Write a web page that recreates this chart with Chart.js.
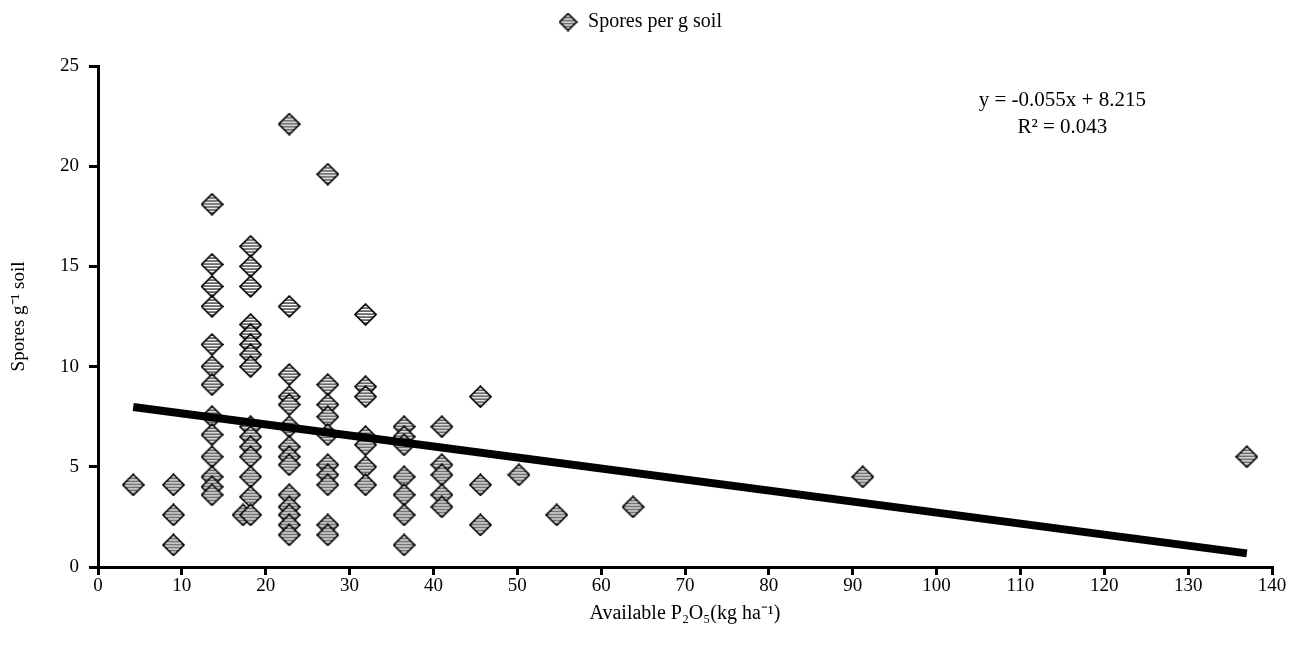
<!DOCTYPE html>
<html>
<head>
<meta charset="utf-8">
<script src="https://cdn.jsdelivr.net/npm/chart.js@4"></script>
<style>
html,body{margin:0;padding:0;background:#fff;}
#wrap{width:1298px;height:646px;}
</style>
</head>
<body>
<div id="wrap"><canvas id="c" width="1298" height="646"></canvas></div>
<script>
// ---- Data ----
const seriesLabel = "Spores per g soil";
const p2o5 = [
  4.2,
  9.0, 9.0, 9.0,
  13.6, 13.6, 13.6, 13.6, 13.6, 13.6, 13.6, 13.6, 13.6, 13.6, 13.6, 13.6, 13.6,
  17.3,
  18.2, 18.2, 18.2, 18.2, 18.2, 18.2, 18.2, 18.2, 18.2, 18.2, 18.2, 18.2, 18.2, 18.2, 18.2,
  22.8, 22.8, 22.8, 22.8, 22.8, 22.8, 22.8, 22.8, 22.8, 22.8, 22.8, 22.8, 22.8, 22.8,
  27.4, 27.4, 27.4, 27.4, 27.4, 27.4, 27.4, 27.4, 27.4, 27.4,
  31.9, 31.9, 31.9, 31.9, 31.9, 31.9, 31.9,
  36.5, 36.5, 36.5, 36.5, 36.5, 36.5, 36.5,
  41.0, 41.0, 41.0, 41.0, 41.0,
  45.6, 45.6, 45.6,
  50.2,
  54.7,
  63.8,
  91.2,
  137.0
];
const spores = [
  4.1,
  4.1, 2.6, 1.1,
  18.1, 15.1, 14.0, 13.0, 11.1, 10.0, 9.1, 7.5, 6.6, 5.5, 4.5, 4.0, 3.6,
  2.6,
  16.0, 15.0, 14.0, 12.1, 11.6, 11.1, 10.6, 10.0, 7.0, 6.5, 6.0, 5.5, 4.5, 3.5, 2.6,
  22.1, 13.0, 9.6, 8.5, 8.1, 7.0, 6.0, 5.5, 5.1, 3.6, 3.0, 2.6, 2.1, 1.6,
  19.6, 9.1, 8.1, 7.5, 6.6, 5.1, 4.6, 4.1, 2.1, 1.6,
  12.6, 9.0, 8.5, 6.5, 6.1, 5.0, 4.1,
  7.0, 6.5, 6.1, 4.5, 3.6, 2.6, 1.1,
  7.0, 5.1, 4.6, 3.6, 3.0,
  8.5, 4.1, 2.1,
  4.6,
  2.6,
  3.0,
  4.5,
  5.5
];
const trendSlope = -0.055;
const trendIntercept = 8.215;
const equationLines = ["y = -0.055x + 8.215", "R\u00B2 = 0.043"];
const xTitle = "Available P\u2082O\u2085(kg ha\u207B\u00B9)";
const yTitle = "Spores g\u207B\u00B9 soil";

// ---- Styling ----
const FONT = '"Liberation Serif", "Times New Roman", Times, serif';

function makeDiamond(size){
  const c = document.createElement('canvas');
  c.width = size; c.height = size;
  const g = c.getContext('2d');
  const h = size/2;
  const path = () => {
    g.beginPath();
    g.moveTo(h, 1); g.lineTo(size-1, h); g.lineTo(h, size-1); g.lineTo(1, h); g.closePath();
  };
  path();
  g.fillStyle = '#666666';
  g.fill();
  g.save();
  g.clip();
  g.fillStyle = '#ffffff';
  for (let y = 3; y < size - 1; y += 3){
    g.fillRect(0, y, size, 1.2);
  }
  g.restore();
  path();
  g.strokeStyle = '#000';
  g.lineWidth = 1.6;
  g.stroke();
  return c;
}
const diamond = makeDiamond(23);
const legendDiamond = makeDiamond(19);

const points = p2o5.map((x, i) => ({x: x, y: spores[i]}));
const xMin = Math.min(...p2o5), xMax = Math.max(...p2o5);
const trend = [xMin, xMax].map(x => ({x: x, y: trendSlope * x + trendIntercept}));

const equationPlugin = {
  id: 'equation',
  afterDraw(chart){
    const {ctx, scales} = chart;
    const cx = scales.x.getPixelForValue(115);
    ctx.save();
    ctx.fillStyle = '#000';
    ctx.font = '21px ' + FONT;
    ctx.textAlign = 'center';
    ctx.textBaseline = 'middle';
    ctx.fillText(equationLines[0], cx, scales.y.getPixelForValue(23.3));
    ctx.fillText(equationLines[1], cx, scales.y.getPixelForValue(21.95));
    ctx.restore();
  }
};

const legendHeightPlugin = {
  id: 'legendHeight',
  beforeInit(chart){
    const lg = chart.legend;
    if (!lg) return;
    const orig = lg.fit;
    lg.fit = function(){ orig.call(this); this.height = 62; };
  }
};

new Chart(document.getElementById('c'), {
  type: 'scatter',
  data: {
    datasets: [
      {
        label: seriesLabel,
        data: points,
        pointStyle: diamond,
        pointRadius: 11,
        pointHoverRadius: 11,
        order: 2
      },
      {
        label: 'trend',
        type: 'line',
        data: trend,
        borderColor: '#000',
        borderWidth: 8,
        pointRadius: 0,
        fill: false,
        order: 1
      }
    ]
  },
  options: {
    responsive: false,
    animation: false,
    events: [],
    layout: { padding: { left: 8, right: 26, top: 4, bottom: 20 } },
    plugins: {
      legend: {
        display: true,
        position: 'top',
        labels: {
          usePointStyle: true,
          color: '#000',
          font: { family: FONT, size: 20 },
          padding: 8,
          generateLabels: chart => [{
            text: seriesLabel, pointStyle: legendDiamond, datasetIndex: 0,
            fillStyle: '#666666', strokeStyle: '#000', lineWidth: 0, hidden: false
          }]
        }
      },
      tooltip: { enabled: false }
    },
    scales: {
      x: {
        type: 'linear',
        min: 0, max: 140,
        ticks: { stepSize: 10, color: '#000', font: { family: FONT, size: 19 }, padding: 0, maxRotation: 0 },
        grid: { display: true, drawOnChartArea: false, drawTicks: true, tickLength: 8, color: '#000', lineWidth: 3 },
        border: { display: true, color: '#000', width: 3 },
        title: { display: true, text: xTitle, color: '#000', font: { family: FONT, size: 20 }, padding: { top: 0, bottom: 0 } },
        afterFit(scale){ scale.height = 59; }
      },
      y: {
        type: 'linear',
        min: 0, max: 25,
        ticks: { stepSize: 5, color: '#000', font: { family: FONT, size: 19 }, padding: 10 },
        grid: { display: true, drawOnChartArea: false, drawTicks: true, tickLength: 9, color: '#000', lineWidth: 3 },
        border: { display: true, color: '#000', width: 3 },
        title: { display: true, text: yTitle, color: '#000', font: { family: FONT, size: 19 }, padding: { top: 0, bottom: 0 } },
        afterFit(scale){ scale.width = 90; }
      }
    }
  },
  plugins: [equationPlugin, legendHeightPlugin]
});
</script>
</body>
</html>
